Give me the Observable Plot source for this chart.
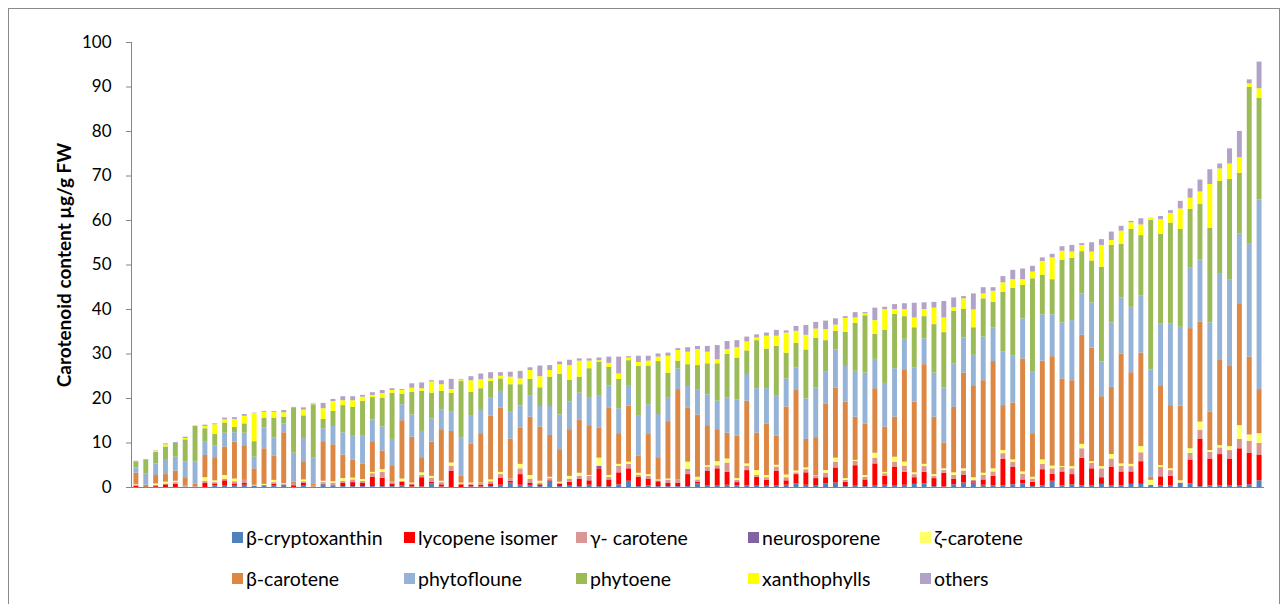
<!DOCTYPE html>
<html>
<head>
<meta charset="utf-8">
<script src="https://cdn.jsdelivr.net/npm/d3@7"></script>
<script src="https://cdn.jsdelivr.net/npm/@observablehq/plot@0.6"></script>
<style>
  html, body { margin: 0; padding: 0; background: #fff; }
  body { width: 1282px; height: 604px; overflow: hidden; position: relative; font-family: Lato, "Open Sans", sans-serif; }
  #frame { position: absolute; left: 8px; top: 8px; width: 1272px; height: 620px; border: 1px solid #8a8a8a; box-sizing: border-box; }
  #chart { position: absolute; left: 0; top: 0; }
  #legend { position: absolute; left: 232px; top: 525px; display: grid; grid-template-columns: repeat(5, 172px); row-gap: 17px; font-size: 19.5px; color: #000; }
  .item { display: flex; align-items: center; height: 24px; white-space: nowrap; }
  .sw { width: 11px; height: 11px; margin-right: 3px; flex: none; }
</style>
</head>
<body>
<div id="frame"></div>
<div id="chart"></div>
<div id="legend"></div>
<script>
const seriesNames = ["β-cryptoxanthin","lycopene isomer","γ- carotene","neurosporene","ζ-carotene","β-carotene","phytofloune","phytoene","xanthophylls","others"];
const seriesColors = ["#4F81BD","#FF0000","#DA9694","#8064A2","#FFFF66","#DC8744","#95B3D7","#9BBB59","#FFFF00","#B3A2C7"];
const yTicks = [0,10,20,30,40,50,60,70,80,90,100];

const cryptoxanthin = [0,0,0,0,0,0.1,0,0,0.4,0.3, 0.3,0.5,0.3,0.4,0.3,0.5,0,0.3,0,0.6, 0.4,0.2,0.2,0.2,0.2,0.2,0.2,0.3,0.1,0.1, 0.8,0.1,0,0,0.1,0.1,0.2,0.5,1.0,0.5, 0.4,0.2,1.2,0.2,0.3,0.2,0.5,0.2,0.2,0.6, 1.4,0.2,0.4,0.2,0.2,0.2,0.2,0.8,0.3,0.3, 0.5,0.4,0.4,0.3,0.3,0.3,0.5,0.8,0.5,0.3, 0.8,1.0,0.2,0.3,0.2,0.3,0.5,0.3,0.5,0.7, 0.8,0.2,0.1,0.6,1.0,1.0,0.5,0.4,0.4,0.6, 0.8,0.2,0.4,1.4,0.4,0.6,0.4,0.4,0.7,0.4, 0.4,0.7,0.7,0.5,0.4,0.4,1.0,0.8,0.2,0.4, 0.4,0.4,0.4,0.6,1.5];
const lycopene = [0.3,0,0.2,0.6,0.7,0,0,1.0,0.4,1.2, 0.5,0.4,0,0,0.4,0,0.4,0.7,0,0.1, 0,0.8,0.9,0.7,2.1,1.9,0.6,0.9,0.5,2.1, 0.4,0.5,3.7,0.6,0.4,0.4,0.6,1.6,0.4,2.4, 0.5,0.4,0.3,0.5,0.9,1.6,1.0,4.0,1.5,2.7, 2.8,2.1,1.5,1.1,0.8,0.8,2.7,0.4,3.3,3.9, 2.9,0.7,3.4,2.0,1.3,3.3,1.0,2.1,2.8,1.7, 1.4,3.4,1.0,4.6,1.5,5.0,2.0,4.3,2.9,1.5, 2.6,1.8,3.1,1.2,1.7,0.3,1.2,2.1,5.9,3.9, 0.9,1.0,3.6,1.6,3.1,2.3,6.2,3.8,1.5,4.2, 3.1,2.8,5.1,0,2.0,2.1,0,5.4,10.7,6.0, 7.0,6.0,8.3,7.1,5.8];
const gammaCarotene = [0.3,0,0.3,0.2,0.4,0.3,0.2,0.4,0.3,0.4, 0.5,0.7,0.1,0.1,0.4,0.3,0.3,0.3,0.3,0.4, 0.6,0.4,0.6,0.5,0.8,1.3,0.3,0.2,0.2,0.5, 0.9,0.5,1.1,0.2,0.3,0.4,0.5,0.8,0.5,1.3, 1.0,0.4,0.5,0.3,0.7,0.7,1.0,0,0.6,1.5, 1.0,0.4,0.6,0.2,0.6,0.7,0.8,0.5,1.0,0.7, 2.1,0.5,1.0,0.4,0.6,1.0,0.7,0.4,0.7,0.5, 1.0,1.3,0.4,1.0,0.6,1.3,0.6,1.1,1.4,0.7, 1.3,0.5,0.6,0.9,1.0,0.3,1.0,1.0,1.3,1.2, 1.3,0.7,1.2,1.2,1.0,1.3,2.1,1.2,2.0,1.8, 1.3,1.2,2.0,0,2.1,1.3,0,1.5,2.0,1.5, 1.5,1.9,2.1,2.7,2.6];
const neurosporene = [0,0,0,0,0,0,0,0,0,0, 0,0,0,0,0,0,0,0,0,0, 0,0,0,0,0,0,0,0,0,0, 0,0,0,0,0,0,0,0,0,0, 0,0,0,0,0,0,0,0.6,0,0, 0,0,0,0,0,0,0.3,0,0,0, 0,0,0,0,0,0,0,0,0,0, 0,0,0,0,0,0,0,0,0,0, 0,0,0,0,0,0,0,0,0,0, 0,0,0,0,0,0,0,0,0,0, 0,0,0,0,0,0,0,0,0,0, 0,0,0,0,0];
const zetaCarotene = [0.1,0,0.3,0.4,0.3,0,0,0.8,0.4,0.8, 0.6,0,0.1,0.2,0.5,0.1,0,0.4,0,0.3, 0.3,0.6,0.4,0.4,0.3,0.6,0.1,0.5,0.2,0.6, 0.4,0.3,0.7,0.2,0.2,0.1,0.4,0.5,0,1.0, 0.8,0.4,0.3,0.2,0.6,0.7,0.2,1.8,0.4,0.4, 0.5,0.5,0.4,0.2,0.3,0,1.7,0.6,0.3,0.9, 0.9,0.4,0.5,1.1,0.5,0.4,0.6,0.4,0.4,0.1, 0.6,0.9,0.4,0.2,0.4,1.1,0.3,1.1,0.9,0.4, 0.5,0.4,0.4,0.6,0.5,0.6,0.5,0.7,0.7,0.5, 0.5,0.4,1.0,0.6,0.2,0.5,1.0,0.4,0.5,1.0, 0.5,0.5,1.4,1.1,0.4,0.4,0.5,1.0,1.8,0.4, 0.5,0.9,3.1,1.4,2.2];
const betaCarotene = [2.5,0.5,1.9,1.7,2.3,1.8,0.5,5.0,5.2,6.4, 8.3,7.8,3.7,8.0,5.4,11.4,0.5,4.1,0.4,8.9, 8.3,5.3,4.1,3.4,6.9,4.2,3.7,13.1,10.3,3.4, 7.7,11.6,7.1,1.5,8.7,11.1,14.3,14.4,9.0,8.2, 13.1,12.2,9.4,7.3,10.5,12.0,11.2,6.7,15.2,6.9, 12.6,3.8,9.0,5.0,12.9,20.3,12.2,14.0,9.0,7.2, 5.8,9.5,14.1,8.4,11.6,6.6,15.3,18.1,6.4,8.6, 15.0,15.7,17.2,9.7,11.5,14.5,10.2,9.0,20.6,15.9, 22.4,12.9,5.8,14.7,21.5,20.5,20.8,24.1,10.1,12.8, 25.4,9.8,22.2,24.6,19.7,19.3,24.5,25.5,15.7,15.1, 24.7,20.6,21.0,0.7,17.8,14.2,16.8,27.0,22.5,8.6, 19.3,18.0,27.4,17.5,9.9];
const phytofluene = [1.2,2.5,2.6,3.2,3.1,3.5,5.1,3.1,2.6,3.1, 2.1,2.8,2.6,4.7,4.1,2.0,6.5,5.2,6.0,2.9, 4.1,5.0,5.3,6.3,4.9,5.4,5.9,3.6,5.0,5.9, 5.2,4.5,4.3,8.7,6.3,5.2,4.2,3.8,6.0,4.9, 4.7,4.6,6.5,7.8,6.2,6.0,6.3,7.2,4.9,5.6, 4.6,9.0,6.7,9.7,5.4,4.6,4.8,5.7,6.9,6.4, 7.9,8.2,6.0,10.0,7.9,8.9,6.3,5.1,9.1,11.2, 7.1,8.6,8.0,10.3,11.5,6.6,9.8,10.9,7.0,7.7, 5.8,9.9,12.4,9.8,7.9,7.0,9.8,7.6,12.0,10.5, 9.0,13.8,10.4,9.4,12.6,13.5,9.3,10.2,7.8,14.5, 12.6,14.7,12.8,24.1,14.1,18.4,17.7,13.7,14.0,20.1, 19.2,19.5,15.7,25.5,42.6];
const phytoene = [1.3,3.2,2.6,3.0,3.1,5.0,7.9,2.9,2.6,2.3, 1.2,2.1,3.5,2.2,4.5,1.5,10.2,5.1,11.9,2.1, 3.4,6.1,6.5,7.9,5.0,6.5,10.4,2.4,5.1,9.0, 5.8,4.1,4.3,12.6,5.4,4.9,3.6,2.8,6.2,4.8, 3.8,4.2,6.6,9.1,4.9,3.6,6.5,7.7,4.2,6.6, 5.6,11.2,8.7,11.9,5.5,1.8,4.9,5.4,7.0,8.4, 9.8,9.4,5.3,10.8,8.9,11.2,5.8,5.5,11.0,11.1, 7.1,4.2,7.7,10.8,12.9,5.6,11.9,12.2,5.1,9.0, 5.0,10.9,12.4,11.8,6.4,6.2,8.6,5.7,13.5,15.3, 7.5,21.0,8.9,7.9,14.1,14.0,9.5,9.4,21.3,17.4, 12.0,17.5,13.6,33.6,20.1,22.6,22.0,13.1,12.4,21.2, 20.9,22.5,13.6,35.1,22.9];
const xanthophylls = [0,0,0.3,0.5,0,0.3,0,0.5,2.2,0.7, 1.8,1.7,6.3,1.3,1.3,1.0,0,1.3,0.2,2.4, 2.2,1.1,1.5,0.9,0.5,1.0,0.6,0.8,0.9,0.6, 2.5,1.5,0.8,0.2,2.6,2.0,0.6,0.6,1.7,1.3, 2.0,2.5,1.5,2.2,3.3,3.6,1.7,0.3,0.9,1.2, 0.6,0.9,1.1,1.0,3.8,2.4,2.8,3.6,2.6,0.9, 1.1,2.3,2.0,0.6,2.9,2.3,4.5,2.7,3.3,2.1, 2.5,1.4,3.1,1.2,0.4,3.1,4.7,1.1,1.6,2.2, 1.6,3.7,3.3,0.8,2.4,4.0,1.1,2.5,2.1,1.9, 1.3,1.5,3.1,4.9,2.0,1.4,1.4,2.0,4.9,1.1, 3.0,1.5,2.4,0.6,3.3,2.2,4.6,2.5,2.8,9.9, 2.8,3.5,3.5,0.8,2.1];
const others = [0.2,0.1,0.1,0.2,0.2,0.3,0.1,0.3,0.2,0.4, 0.4,0.4,0.1,0.2,0.2,0.5,0.1,0.5,0.1,1.2, 0.5,0.9,0.9,0.4,0.6,0.7,0.4,0.2,1.0,1.3, 0.3,0.9,2.3,0.2,0.9,1.3,1.4,0.8,1.1,1.7, 0.6,2.4,1.1,0.6,1.2,0.5,0.5,0.6,1.4,3.8, 0.3,1.4,1.1,0.7,0.7,0.4,1.0,0.7,1.3,3.2, 1.8,1.6,1.1,0.7,0.7,1.3,0.5,1.1,2.2,1.5, 1.9,1.4,0.4,1.2,0.3,2.8,0.5,1.1,1.3,3.3, 1.5,1.3,3.7,2.2,0.5,3.6,1.4,0.8,1.4,2.1, 2.4,1.3,0.8,0.8,1.0,1.5,0.4,2.1,1.3,1.9, 1.1,0.3,1.4,0,0.7,0.6,1.7,2.1,2.7,3.3, 1.1,3.4,5.9,0.9,6.0];

const seriesValues = [cryptoxanthin, lycopene, gammaCarotene, neurosporene, zetaCarotene, betaCarotene, phytofluene, phytoene, xanthophylls, others];
const samples = d3.range(1, cryptoxanthin.length + 1);

const rows = [];
samples.forEach((s, i) => {
  seriesNames.forEach((name, k) => {
    rows.push({sample: s, series: name, value: seriesValues[k][i]});
  });
});

const chart = Plot.plot({
  width: 1282,
  height: 505,
  marginLeft: 131,
  marginRight: 18,
  marginTop: 42,
  marginBottom: 18,
  style: {fontFamily: "Lato, 'Open Sans', sans-serif", background: "transparent", color: "#000"},
  x: {type: "band", domain: samples, paddingInner: 0.5, paddingOuter: 0.25, axis: null},
  y: {domain: [0, 100], axis: null},
  color: {domain: seriesNames, range: seriesColors},
  marks: [
    Plot.barY(rows, {x: "sample", y: "value", fill: "series", order: seriesNames}),
    Plot.ruleY([0], {stroke: "#868686"}),
    Plot.frame({anchor: "left", stroke: "#868686"}),
    Plot.axisY({ticks: yTicks, tickSize: 5, tickPadding: 15, fontSize: 17, stroke: "#868686", color: "#000",
      label: "Carotenoid content µg/g FW", labelAnchor: "center", labelOffset: 74, labelArrow: "none"})
  ]
});
document.getElementById("chart").appendChild(chart);

const lab = chart.querySelector('[aria-label="y-axis label"]');
if (lab) { lab.style.fontWeight = "bold"; lab.style.fontSize = "19px"; }

const legend = document.getElementById("legend");
seriesNames.forEach((name, k) => {
  const it = document.createElement("div");
  it.className = "item";
  const sw = document.createElement("span");
  sw.className = "sw";
  sw.style.background = seriesColors[k];
  const tx = document.createElement("span");
  tx.textContent = name;
  it.appendChild(sw); it.appendChild(tx);
  legend.appendChild(it);
});
</script>
</body>
</html>
